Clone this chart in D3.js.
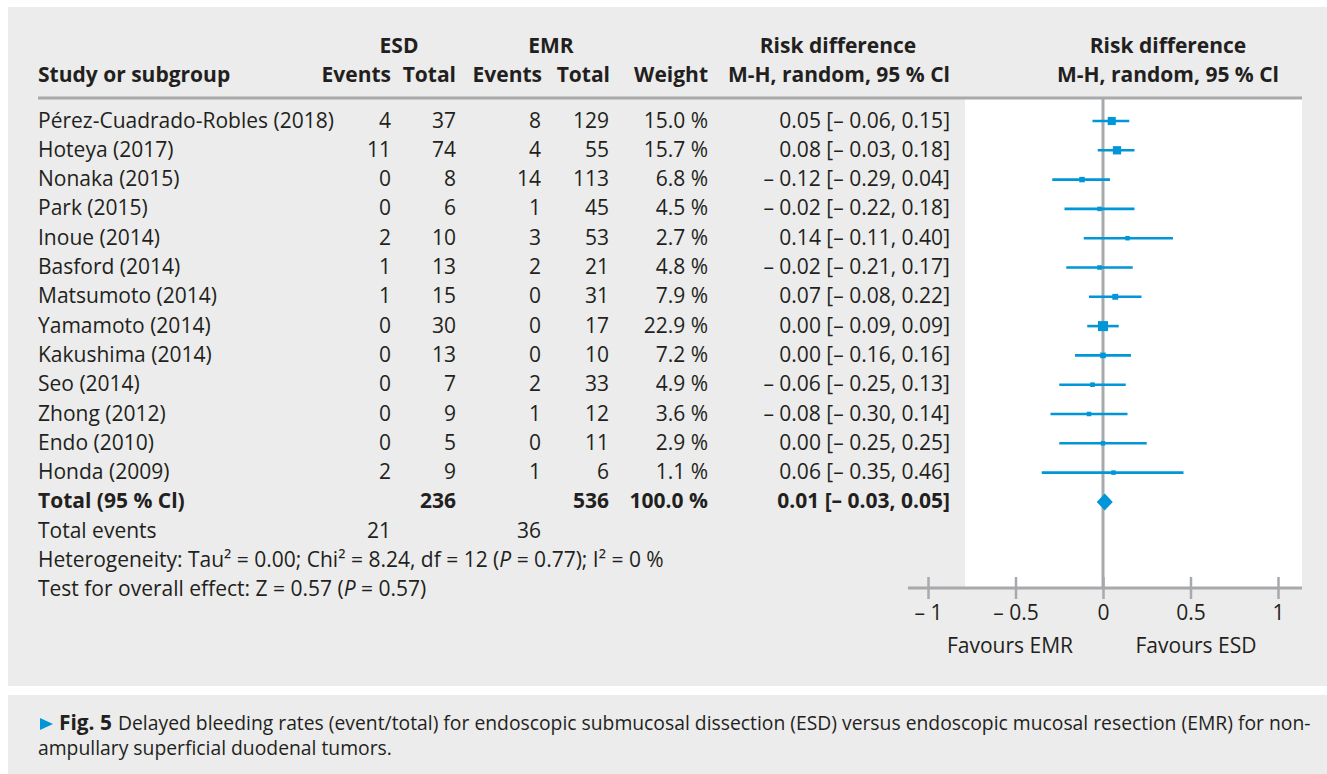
<!DOCTYPE html>
<html>
<head>
<meta charset="utf-8">
<script src="https://cdn.jsdelivr.net/npm/d3@7"></script>
<style>
  html, body { margin: 0; padding: 0; background: #ffffff; }
  svg { display: block; }
</style>
</head>
<body>
<svg id="chart" width="1327" height="774"></svg>
<script>
// Forest plot: delayed bleeding, ESD vs EMR (risk difference, M-H random effects)
const studies = [
  "Pérez-Cuadrado-Robles (2018)", "Hoteya (2017)", "Nonaka (2015)", "Park (2015)",
  "Inoue (2014)", "Basford (2014)", "Matsumoto (2014)", "Yamamoto (2014)",
  "Kakushima (2014)", "Seo (2014)", "Zhong (2012)", "Endo (2010)", "Honda (2009)"
];
const esdEvents = [4, 11, 0, 0, 2, 1, 1, 0, 0, 0, 0, 0, 2];
const esdTotal  = [37, 74, 8, 6, 10, 13, 15, 30, 13, 7, 9, 5, 9];
const emrEvents = [8, 4, 14, 1, 3, 2, 0, 0, 0, 2, 1, 0, 1];
const emrTotal  = [129, 55, 113, 45, 53, 21, 31, 17, 10, 33, 12, 11, 6];
const weights   = [15.0, 15.7, 6.8, 4.5, 2.7, 4.8, 7.9, 22.9, 7.2, 4.9, 3.6, 2.9, 1.1];
const riskDiff  = [0.05, 0.08, -0.12, -0.02, 0.14, -0.02, 0.07, 0.00, 0.00, -0.06, -0.08, 0.00, 0.06];
const ciLow     = [-0.06, -0.03, -0.29, -0.22, -0.11, -0.21, -0.08, -0.09, -0.16, -0.25, -0.30, -0.25, -0.35];
const ciHigh    = [0.15, 0.18, 0.04, 0.18, 0.40, 0.17, 0.22, 0.09, 0.16, 0.13, 0.14, 0.25, 0.46];

const pooled = { rd: 0.01, lo: -0.03, hi: 0.05, esdTotal: 236, emrTotal: 536, weight: 100.0,
                 esdEvents: 21, emrEvents: 36 };
const axisTicks = [-1, -0.5, 0, 0.5, 1];
const axisTickLabels = ["– 1", "– 0.5", "0", "0.5", "1"];

const BLUE = "#0096d8", INK = "#231f20", PANEL = "#ebeceb", RULE = "#a7a9ac";
const FONT = "'Open Sans', 'Noto Sans', sans-serif";

const svg = d3.select("#chart");

// measure text so font sizes fit the column layout
function measure(str, size, weight) {
  const t = svg.append("text").attr("font-family", FONT).attr("font-size", size)
    .attr("font-weight", weight || 400).text(str);
  const w = t.node().getComputedTextLength();
  t.remove();
  return w;
}
const FS = Math.min(21, 20 * 298 / measure(studies[0], 20));

// backgrounds
svg.append("rect").attr("x", 8).attr("y", 7).attr("width", 1319).attr("height", 679).attr("fill", PANEL);
svg.append("rect").attr("x", 8).attr("y", 695).attr("width", 1319).attr("height", 79).attr("fill", PANEL);

// scales
const x = d3.scaleLinear().domain([-1, 1]).range([928, 1278]);
const row = d3.scaleLinear().domain([0, 1]).range([121, 150.3]);
const size = d3.scaleSqrt().domain([0, 22.9]).range([0, 10]);

// white plotting area
svg.append("rect").attr("x", 965).attr("y", 99).attr("width", 1302 - 965).attr("height", 588 - 99)
  .attr("fill", "#ffffff");

// header rule
svg.append("line").attr("x1", 38).attr("x2", 1302).attr("y1", 98).attr("y2", 98)
  .attr("stroke", RULE).attr("stroke-width", 3);

const g = svg.append("g").attr("font-family", FONT).attr("fill", INK).attr("font-size", FS);

function txt(str, xp, yp, anchor, bold) {
  return g.append("text").attr("x", xp).attr("y", yp).attr("text-anchor", anchor || "start")
    .attr("font-weight", bold ? 700 : 400).text(str);
}

// column headers
txt("ESD", 399, 53, "middle", true);
txt("EMR", 551, 53, "middle", true);
txt("Risk difference", 838, 53, "middle", true);
txt("Risk difference", 1168, 53, "middle", true);
txt("Study or subgroup", 38, 82, "start", true);
txt("Events", 391, 82, "end", true);
txt("Total", 456, 82, "end", true);
txt("Events", 542, 82, "end", true);
txt("Total", 610, 82, "end", true);
txt("Weight", 708, 82, "end", true);
txt("M-H, random, 95 % Cl", 950, 82, "end", true);
txt("M-H, random, 95 % Cl", 1168, 82, "middle", true);

const fmt2 = v => (v < 0 ? "– " : "") + Math.abs(v).toFixed(2);
const ciText = (m, l, h) => `${fmt2(m)} [${fmt2(l)}, ${fmt2(h)}]`;
const base = i => row(i) + 6.5;

// study rows
studies.forEach((s, i) => {
  txt(s, 38, base(i));
  txt(esdEvents[i], 391, base(i), "end");
  txt(esdTotal[i], 456, base(i), "end");
  txt(emrEvents[i], 541, base(i), "end");
  txt(emrTotal[i], 609, base(i), "end");
  txt(weights[i].toFixed(1) + " %", 708, base(i), "end");
  txt(ciText(riskDiff[i], ciLow[i], ciHigh[i]), 950, base(i), "end");
});

// pooled rows
const nT = studies.length;
txt("Total (95 % Cl)", 38, base(nT), "start", true);
txt(pooled.esdTotal, 456, base(nT), "end", true);
txt(pooled.emrTotal, 609, base(nT), "end", true);
txt(pooled.weight.toFixed(1) + " %", 708, base(nT), "end", true);
txt(ciText(pooled.rd, pooled.lo, pooled.hi), 950, base(nT), "end", true);

txt("Total events", 38, base(nT + 1));
txt(pooled.esdEvents, 391, base(nT + 1), "end");
txt(pooled.emrEvents, 541, base(nT + 1), "end");

const het = g.append("text").attr("x", 38).attr("y", base(nT + 2));
het.append("tspan").text("Heterogeneity: Tau² = 0.00; Chi² = 8.24, df = 12 (");
het.append("tspan").attr("font-style", "italic").text("P");
het.append("tspan").text(" = 0.77); I² = 0 %");

const test = g.append("text").attr("x", 38).attr("y", base(nT + 3));
test.append("tspan").text("Test for overall effect: Z = 0.57 (");
test.append("tspan").attr("font-style", "italic").text("P");
test.append("tspan").text(" = 0.57)");

// line of no effect
svg.append("line").attr("x1", x(0)).attr("x2", x(0)).attr("y1", 98).attr("y2", 588)
  .attr("stroke", RULE).attr("stroke-width", 3);

// confidence intervals and weighted squares
const marks = svg.append("g");
studies.forEach((s, i) => {
  marks.append("line").attr("x1", x(ciLow[i])).attr("x2", x(ciHigh[i]))
    .attr("y1", row(i)).attr("y2", row(i)).attr("stroke", BLUE).attr("stroke-width", 2.6);
  const sz = Math.max(4.5, size(weights[i]));
  marks.append("rect").attr("x", x(riskDiff[i]) - sz / 2).attr("y", row(i) - sz / 2)
    .attr("width", sz).attr("height", sz).attr("fill", BLUE);
});

// pooled diamond
const dy = row(nT), dh = 8.5;
marks.append("path")
  .attr("d", `M${x(pooled.lo) - 1},${dy} L${x(pooled.rd)},${dy - dh} L${x(pooled.hi) + 1},${dy} L${x(pooled.rd)},${dy + dh} Z`)
  .attr("fill", BLUE);

// x axis
const axisY = 588;
svg.append("line").attr("x1", 908).attr("x2", 1302).attr("y1", axisY).attr("y2", axisY)
  .attr("stroke", RULE).attr("stroke-width", 3);
const axis = svg.append("g").attr("transform", `translate(0,${axisY})`)
  .call(d3.axisBottom(x).tickValues(axisTicks).tickFormat((d, i) => axisTickLabels[i]).tickSize(0).tickPadding(0));
axis.select(".domain").remove();
axis.selectAll(".tick line").attr("y1", -11).attr("y2", 11).attr("stroke", RULE).attr("stroke-width", 2.5);
axis.selectAll(".tick text").attr("font-family", FONT).attr("font-size", FS).attr("fill", INK)
  .attr("dy", null).attr("y", 32);

txt("Favours EMR", 1010, 653, "middle");
txt("Favours ESD", 1196, 653, "middle");

// caption
const capLine1 = "Delayed bleeding rates (event/total) for endoscopic submucosal dissection (ESD) versus endoscopic mucosal resection (EMR) for non-";
const capSize = 16 * (1311 - 118) / measure(capLine1, 16);
const cap = svg.append("g").attr("font-family", FONT).attr("font-size", capSize).attr("fill", INK);
cap.append("path").attr("d", "M40,718 L53,724 L40,730 Z").attr("fill", BLUE);
cap.append("text").attr("x", 59).attr("y", 730).attr("font-weight", 700)
  .attr("font-size", capSize * 1.08).text("Fig. 5");
cap.append("text").attr("x", 118).attr("y", 730).text(capLine1);
cap.append("text").attr("x", 38).attr("y", 755).text("ampullary superficial duodenal tumors.");
</script>
</body>
</html>
